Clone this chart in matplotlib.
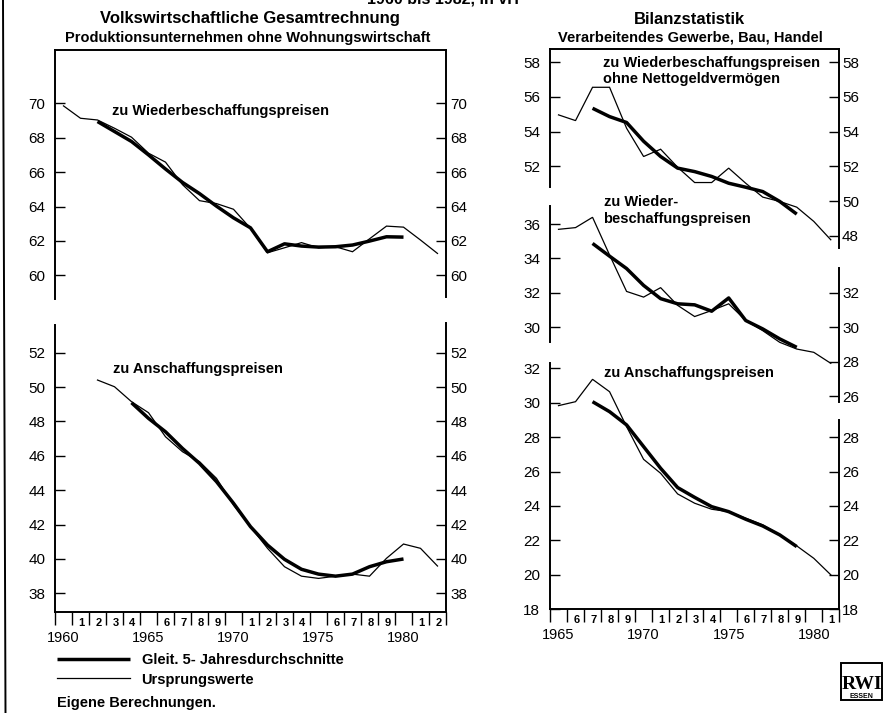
import matplotlib
matplotlib.use("Agg")
import matplotlib.pyplot as plt
from matplotlib.lines import Line2D
from matplotlib.patches import Rectangle
from matplotlib import font_manager

# ---------------- data ----------------
# Volkswirtschaftliche Gesamtrechnung, zu Wiederbeschaffungspreisen
vgr_wbp_years = list(range(1960, 1983))
vgr_wbp_orig = [69.85, 69.13, 69.03, 68.55, 68.03, 67.10, 66.58, 65.27, 64.34, 64.17,
                63.84, 62.73, 61.31, 61.60, 61.90, 61.60, 61.66, 61.37, 62.12, 62.86,
                62.80, 62.05, 61.27]
vgr_wbp_ma_years = list(range(1962, 1981))
vgr_wbp_ma = [68.94, 68.36, 67.78, 67.00, 66.18, 65.40, 64.75, 64.02, 63.34, 62.76,
              61.37, 61.83, 61.70, 61.64, 61.66, 61.76, 61.99, 62.24, 62.22]

# Volkswirtschaftliche Gesamtrechnung, zu Anschaffungspreisen
vgr_ap_years = list(range(1962, 1983))
vgr_ap_orig = [50.41, 50.02, 49.15, 48.51, 47.11, 46.24, 45.66, 44.69, 43.14, 41.88,
               40.62, 39.55, 39.00, 38.87, 39.00, 39.12, 39.00, 40.04, 40.87, 40.62,
               39.59]
vgr_ap_ma_years = list(range(1964, 1981))
vgr_ap_ma = [49.09, 48.18, 47.40, 46.43, 45.56, 44.50, 43.24, 41.88, 40.81, 39.98,
             39.40, 39.12, 39.00, 39.12, 39.55, 39.84, 40.00]

# Bilanzstatistik
bil_years = list(range(1965, 1982))
bil_ma_years = list(range(1967, 1980))
bil_wbp_ong_orig = [54.97, 54.64, 56.56, 56.56, 54.20, 52.57, 52.99, 51.95, 51.07, 51.07,
                    51.90, 51.03, 50.23, 49.98, 49.65, 48.83, 47.77]
bil_wbp_ong_ma = [55.35, 54.87, 54.53, 53.45, 52.57, 51.90, 51.70, 51.42, 51.03, 50.80,
                  50.55, 49.98, 49.25]
bil_wbp_orig = [35.69, 35.79, 36.39, 34.20, 32.08, 31.75, 32.30, 31.27, 30.62, 30.97,
                31.36, 30.39, 29.80, 29.12, 28.73, 28.54, 27.90]
bil_wbp_ma = [34.87, 34.13, 33.41, 32.43, 31.66, 31.36, 31.30, 30.93, 31.70, 30.39,
              29.90, 29.32, 28.83]
bil_ap_orig = [29.83, 30.06, 31.36, 30.64, 28.61, 26.71, 25.90, 24.70, 24.16, 23.81,
               23.67, 23.29, 22.90, 22.32, 21.68, 20.96, 20.00]
bil_ap_ma = [30.06, 29.48, 28.71, 27.45, 26.19, 25.07, 24.50, 23.96, 23.67, 23.23,
             22.84, 22.32, 21.64]

# tick values
vgr_top_ticks = [60, 62, 64, 66, 68, 70]
vgr_bot_ticks = [38, 40, 42, 44, 46, 48, 50, 52]
bil_top_left_ticks = [52, 54, 56, 58]
bil_top_right_ticks = [48, 50, 52, 54, 56, 58]
bil_mid_left_ticks = [30, 32, 34, 36]
bil_mid_right_ticks = [26, 28, 30, 32]
bil_bot_left_ticks = [18, 20, 22, 24, 26, 28, 30, 32]
bil_bot_right_ticks = [18, 20, 22, 24, 26, 28]
labeled_years = [1960, 1965, 1970, 1975, 1980]

# ---------------- figure ----------------
plt.rcParams['font.family'] = ['Liberation Sans', 'DejaVu Sans']
names = {f.name for f in font_manager.fontManager.ttflist}
NARROW = 'Liberation Sans Narrow' if 'Liberation Sans Narrow' in names else 'Liberation Sans'
YEAR_FS = 12 if NARROW == 'Liberation Sans Narrow' else 10.5

W, H = 886, 713
fig = plt.figure(figsize=(W / 100, H / 100), dpi=100)

SP_LW = 1.4
THICK = 2.5
THIN = 0.9
TICK_KW = dict(direction='in', length=7, width=1.0, labelsize=11, colors='k')


def add_ax(l, t, r, b):
    ax = fig.add_axes([l / W, 1 - b / H, (r - l) / W, (b - t) / H])
    ax.patch.set_visible(False)
    for s in ax.spines.values():
        s.set_visible(False)
        s.set_linewidth(SP_LW)
    return ax


def make_chart(l, t, r, b, xlim, val0, py0, scale, lticks, rticks, lspan, rspan,
               top=False, bottom=False, lpad=7, rpad=3):
    ax = add_ax(l, t, r, b)
    ax.set_xlim(*xlim)

    def v(py):
        return val0 - (py - py0) / scale

    ax.set_ylim(v(b), v(t))
    ax.spines['left'].set_visible(True)
    ax.spines['left'].set_bounds(v(lspan[1]), v(lspan[0]))
    ax.set_yticks(lticks)
    ax.tick_params(axis='y', pad=lpad, **TICK_KW)
    if top:
        ax.spines['top'].set_visible(True)
    if bottom:
        ax.spines['bottom'].set_visible(True)
        ax.set_xticks(range(xlim[0], xlim[1] + 1))
        ax.tick_params(axis='x', direction='out', length=9, width=1.0, labelbottom=False)
        for yr in range(xlim[0], xlim[1]):
            if yr in labeled_years:
                ax.annotate(str(yr), (yr + 0.5, 0), xycoords=('data', 'axes fraction'),
                            xytext=(0, -18.5), textcoords='offset points', ha='center',
                            va='center', fontsize=YEAR_FS, family=NARROW)
            else:
                ax.annotate(str(yr % 10), (yr + 0.55, 0), xycoords=('data', 'axes fraction'),
                            xytext=(0, -7.6), textcoords='offset points', ha='center',
                            va='center', fontsize=8, weight='bold')
    else:
        ax.set_xticks([])
    tw = ax.twinx()
    tw.patch.set_visible(False)
    tw.set_ylim(ax.get_ylim())
    for s in tw.spines.values():
        s.set_visible(False)
        s.set_linewidth(SP_LW)
    tw.spines['right'].set_visible(True)
    tw.spines['right'].set_bounds(v(rspan[1]), v(rspan[0]))
    tw.set_yticks(rticks)
    tw.tick_params(axis='y', pad=rpad, **TICK_KW)
    return ax


def plot_pair(ax, yrs, orig, ma_yrs, ma):
    thin, = ax.plot([y + 0.5 for y in yrs], orig, color='k', lw=THIN,
                    solid_joinstyle='miter', label='Ursprungswerte')
    thick, = ax.plot([y + 0.5 for y in ma_yrs], ma, color='k', lw=THICK,
                     solid_capstyle='butt', solid_joinstyle='round',
                     label='Gleit. 5- Jahresdurchschnitte')
    return thick, thin


# ---- left panel: Volkswirtschaftliche Gesamtrechnung ----
L_L, L_R = 55, 446
ax_lt = make_chart(L_L, 50, L_R, 299, (1960, 1983), 70, 103.3, 17.2,
                   vgr_top_ticks, vgr_top_ticks, (50, 299), (50, 297), top=True)
plot_pair(ax_lt, vgr_wbp_years, vgr_wbp_orig, vgr_wbp_ma_years, vgr_wbp_ma)

ax_lb = make_chart(L_L, 323, L_R, 612, (1960, 1983), 52, 352.7, 17.19,
                   vgr_bot_ticks, vgr_bot_ticks, (325, 612), (323, 612), bottom=True)
h_thick, h_thin = plot_pair(ax_lb, vgr_ap_years, vgr_ap_orig, vgr_ap_ma_years, vgr_ap_ma)

# ---- right panel: Bilanzstatistik ----
R_L, R_R, R_T, R_B = 550, 839.3, 49, 609.3
ax_rt = make_chart(R_L, R_T, R_R, R_B, (1965, 1982), 58, 62.3, 17.35,
                   bil_top_left_ticks, bil_top_right_ticks, (49, 187), (49, 248),
                   top=True, rpad=2)
plot_pair(ax_rt, bil_years, bil_wbp_ong_orig, bil_ma_years, bil_wbp_ong_ma)

ax_rm = make_chart(R_L, R_T, R_R, R_B, (1965, 1982), 36, 224, 17.2,
                   bil_mid_left_ticks, bil_mid_right_ticks, (206, 342), (268, 402), rpad=2)
plot_pair(ax_rm, bil_years, bil_wbp_orig, bil_ma_years, bil_wbp_ma)

ax_rb = make_chart(R_L, R_T, R_R, R_B, (1965, 1982), 32, 368.3, 17.21,
                   bil_bot_left_ticks, bil_bot_right_ticks, (363, 609.3), (420, 609.3),
                   bottom=True, rpad=2)
plot_pair(ax_rb, bil_years, bil_ap_orig, bil_ma_years, bil_ap_ma)


# ---------------- texts ----------------
def ftext(px, py, s, **kw):
    kw.setdefault('va', 'baseline')
    return fig.text(px / W, 1 - py / H, s, **kw)


# heading line that is cut off at the upper edge in the original
ftext(443, 4, "1960 bis 1982, in vH", ha='center', fontsize=11.5, weight='bold')
ftext(249.5, 23.5, "Volkswirtschaftliche Gesamtrechnung", ha='center', fontsize=12, weight='bold')
ftext(248, 41.7, "Produktionsunternehmen ohne Wohnungswirtschaft", ha='center',
      fontsize=10.5, weight='bold')
ftext(689, 23.5, "Bilanzstatistik", ha='center', fontsize=12, weight='bold')
ftext(690, 41.7, "Verarbeitendes Gewerbe, Bau, Handel", ha='center', fontsize=10.5, weight='bold')

ftext(112, 115, "zu Wiederbeschaffungspreisen", fontsize=10.5, weight='bold')
ftext(113, 372.7, "zu Anschaffungspreisen", fontsize=10.5, weight='bold')
ftext(603, 66.7, "zu Wiederbeschaffungspreisen", fontsize=10.5, weight='bold')
ftext(603, 83.3, "ohne Nettogeldvermögen", fontsize=10.5, weight='bold')
ftext(604, 206, "zu Wieder-", fontsize=10.5, weight='bold')
ftext(603, 223.3, "beschaffungspreisen", fontsize=10.5, weight='bold')
ftext(604, 376.7, "zu Anschaffungspreisen", fontsize=10.5, weight='bold')

fig.legend(handles=[h_thick, h_thin], loc='upper left',
           bbox_to_anchor=(57 / W, 1 - 653 / H), frameon=False, borderpad=0,
           borderaxespad=0, handlelength=5.0, handletextpad=0.8, labelspacing=0.38,
           prop=dict(size=10.5, weight='bold'))

ftext(57, 707, "Eigene Berechnungen.", fontsize=10.5, weight='bold')

# left frame line
fig.add_artist(Line2D([3 / W, 5.5 / W], [1, 0], transform=fig.transFigure,
                      color='k', lw=1.4))

# RWI logo
fig.add_artist(Rectangle((841 / W, 1 - 700 / H), 41 / W, 37 / H, transform=fig.transFigure,
                         fill=False, lw=1.4, ec='k'))
ftext(861.5, 689, "RWI", ha='center', fontsize=14, weight='bold',
      family=['Liberation Serif', 'DejaVu Serif'])
ftext(861.5, 698.5, "ESSEN", ha='center', fontsize=5, weight='bold')

fig.savefig("out.png", dpi=100, facecolor='white')
